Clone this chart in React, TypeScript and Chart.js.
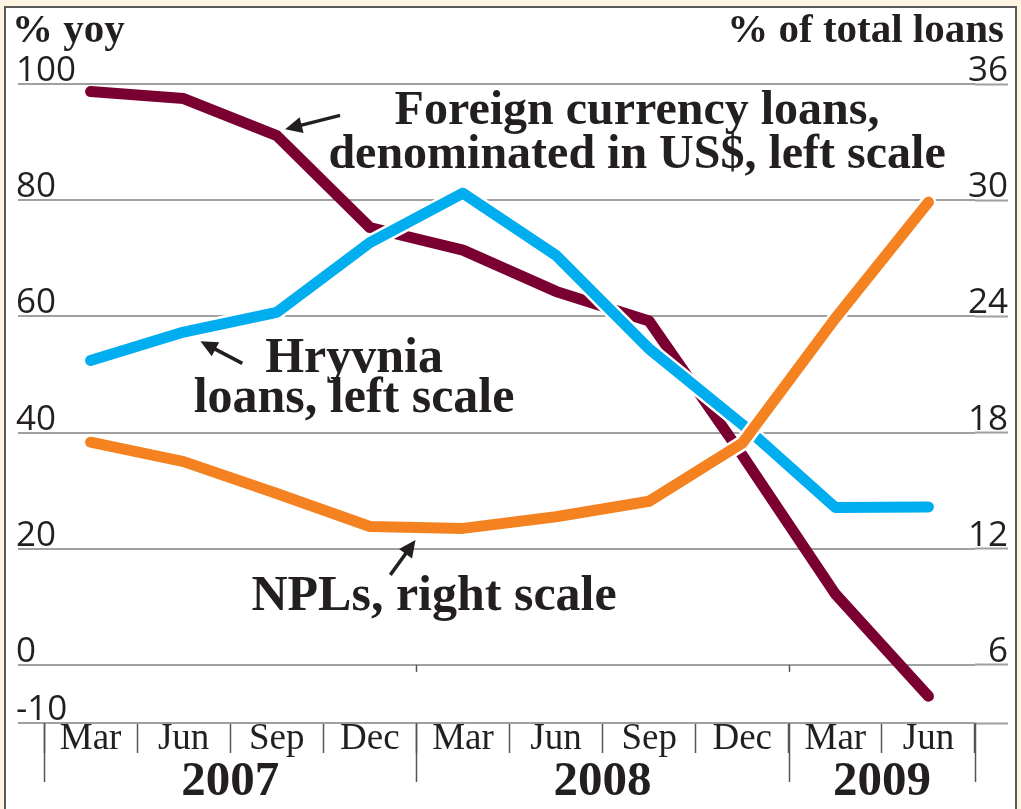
import React, { useEffect, useRef } from 'react';
import { Chart, registerables } from 'chart.js';

Chart.register(...registerables);

// ---------- data ----------
const categories = ['Mar', 'Jun', 'Sep', 'Dec', 'Mar', 'Jun', 'Sep', 'Dec', 'Mar', 'Jun'];
const years = ['2007', '2008', '2009'];
const yearFirstIndex = [0, 4, 8];
const yearLastIndex = [3, 7, 9];
const foreignLoans = [98.7, 97.5, 91.1, 75.3, 71.4, 64.3, 59.2, 36.1, 12.2, -5.4];
const hryvniaLoans = [52.4, 57.3, 60.7, 72.7, 81.2, 70.5, 54.4, 41.4, 27.1, 27.2];
const npls = [17.5, 16.5, 14.85, 13.15, 13.05, 13.65, 14.45, 17.45, 23.9, 29.9];
const leftTicks = [-10, 0, 20, 40, 60, 80, 100];
const rightTicks = [3, 6, 12, 18, 24, 30, 36];
const leftTitle = '% yoy';
const rightTitle = '% of total loans';
const foreignLabel = ['Foreign currency loans,', 'denominated in US$, left scale'];
const hryvniaLabel = ['Hryvnia', 'loans, left scale'];
const nplLabel = ['NPLs, right scale'];

const SERIF = '"Liberation Serif", "Times New Roman", serif';
const SANS = '"Open Sans", sans-serif';
const INK = '#231f20';
const GRID = '#a0a0a0';

function drawArrow(ctx: CanvasRenderingContext2D, x1: number, y1: number, x2: number, y2: number) {
  const ang = Math.atan2(y2 - y1, x2 - x1);
  const headLen = 17;
  const headW = 8;
  const bx = x2 - headLen * Math.cos(ang);
  const by = y2 - headLen * Math.sin(ang);
  ctx.strokeStyle = INK;
  ctx.fillStyle = INK;
  ctx.lineWidth = 3.5;
  ctx.lineCap = 'butt';
  ctx.beginPath();
  ctx.moveTo(x1, y1);
  ctx.lineTo(bx + 2 * Math.cos(ang), by + 2 * Math.sin(ang));
  ctx.stroke();
  ctx.beginPath();
  ctx.moveTo(x2, y2);
  ctx.lineTo(bx + headW * Math.sin(ang), by - headW * Math.cos(ang));
  ctx.lineTo(bx - headW * Math.sin(ang), by + headW * Math.cos(ang));
  ctx.closePath();
  ctx.fill();
}

const decorPlugin = {
  id: 'decor',
  afterDraw(chart: any) {
    const ctx: CanvasRenderingContext2D = chart.ctx;
    const x = chart.scales.x;
    const y = chart.scales.y;
    const px = (i: number) => x.getPixelForValue(i);
    const py = (v: number) => y.getPixelForValue(v);
    ctx.save();

    // long year separators below the axis + small ticks on the zero line
    ctx.strokeStyle = '#555';
    ctx.lineWidth = 1.5;
    const bounds: number[] = [];
    yearFirstIndex.forEach((f) => bounds.push(f - 0.5));
    bounds.push(yearLastIndex[yearLastIndex.length - 1] + 0.5);
    const bottom = py(-10);
    bounds.forEach((b) => {
      const bx = Math.round(px(b)) + 0.5;
      ctx.beginPath();
      ctx.moveTo(bx, bottom);
      ctx.lineTo(bx, bottom + 59);
      ctx.stroke();
    });
    yearFirstIndex.slice(1).forEach((f) => {
      const bx = Math.round(px(f - 0.5)) + 0.5;
      ctx.beginPath();
      ctx.moveTo(bx, py(0));
      ctx.lineTo(bx, py(0) + 7);
      ctx.stroke();
    });

    // year labels
    ctx.fillStyle = INK;
    ctx.font = `bold 49px ${SERIF}`;
    ctx.textAlign = 'center';
    ctx.textBaseline = 'alphabetic';
    years.forEach((yr, k) => {
      const cx = px((yearFirstIndex[k] + yearLastIndex[k]) / 2);
      ctx.fillText(yr, cx, bottom + 72);
    });

    // axis titles
    ctx.font = `bold 41px ${SERIF}`;
    ctx.textAlign = 'left';
    ctx.fillText(leftTitle, 12, 42);
    ctx.textAlign = 'right';
    ctx.fillText(rightTitle, 1004, 42);

    // annotations
    ctx.textAlign = 'center';
    ctx.font = `bold 48px ${SERIF}`;
    ctx.fillText(foreignLabel[0], px(5.87), py(93.2));
    ctx.fillText(foreignLabel[1], px(5.87), py(85.6));
    ctx.font = `bold 50px ${SERIF}`;
    ctx.fillText(hryvniaLabel[0], px(2.83), py(50.4));
    ctx.fillText(hryvniaLabel[1], px(2.83), py(43.5));
    ctx.fillText(nplLabel[0], px(3.69), py(9.46));

    drawArrow(ctx, px(2.68), py(94.6), px(2.09), py(92.2));
    drawArrow(ctx, px(1.63), py(51.9), px(1.18), py(55.7));
    drawArrow(ctx, px(3.22), py(15.5), px(3.49), py(21.5));

    ctx.restore();
  },
};

const lineCommon = {
  pointRadius: 0,
  pointHoverRadius: 0,
  tension: 0,
  borderCapStyle: 'round' as const,
  borderJoinStyle: 'round' as const,
  fill: false,
  clip: false as any,
};

export default function App() {
  const ref = useRef<HTMLCanvasElement | null>(null);

  useEffect(() => {
    if (!ref.current) return;
    const chart = new Chart(ref.current, {
      type: 'line',
      data: {
        labels: categories,
        datasets: [
          { ...lineCommon, label: 'NPLs', data: npls, yAxisID: 'y2', borderColor: '#f58220', borderWidth: 11, order: 0 },
          { ...lineCommon, label: 'NPLs halo', data: npls, yAxisID: 'y2', borderColor: '#ffffff', borderWidth: 16, order: 1 },
          { ...lineCommon, label: 'Hryvnia', data: hryvniaLoans, yAxisID: 'y', borderColor: '#00aeef', borderWidth: 11, order: 2 },
          { ...lineCommon, label: 'Hryvnia halo', data: hryvniaLoans, yAxisID: 'y', borderColor: '#ffffff', borderWidth: 16, order: 3 },
          { ...lineCommon, label: 'Foreign', data: foreignLoans, yAxisID: 'y', borderColor: '#7b0032', borderWidth: 11, order: 4 },
        ],
      },
      options: {
        responsive: false,
        animation: false,
        devicePixelRatio: 1,
        events: [],
        layout: { padding: { left: 18, right: 13, top: 84, bottom: 26 } },
        plugins: { legend: { display: false }, tooltip: { enabled: false }, title: { display: false } },
        scales: {
          x: {
            type: 'category',
            offset: true,
            grid: {
              display: true,
              drawOnChartArea: false,
              drawTicks: true,
              tickLength: 30,
              offset: true,
              tickColor: '#555',
              tickWidth: 1.5,
            },
            border: { display: false },
            ticks: {
              font: { family: SERIF, size: 37, lineHeight: 1 },
              color: INK,
              padding: -32,
              maxRotation: 0,
              autoSkip: false,
            },
            afterFit(s: any) {
              s.height = 60;
              s.paddingLeft = 0;
              s.paddingRight = 0;
            },
          },
          y: {
            type: 'linear',
            position: 'left',
            min: -10,
            max: 100,
            afterBuildTicks(s: any) {
              s.ticks = leftTicks.map((v) => ({ value: v }));
            },
            grid: {
              color: GRID,
              lineWidth: 2,
              drawTicks: true,
              tickLength: 26,
              tickColor: GRID,
              tickWidth: 2,
            },
            border: { display: false },
            ticks: {
              mirror: true,
              padding: -28,
              labelOffset: -13,
              font: { family: SANS, size: 35 },
              color: INK,
            },
            afterFit(s: any) {
              s.width = 26;
              s.paddingTop = 0;
              s.paddingBottom = 0;
            },
          },
          y2: {
            type: 'linear',
            position: 'right',
            min: 3,
            max: 36,
            afterBuildTicks(s: any) {
              s.ticks = rightTicks.map((v) => ({ value: v }));
            },
            grid: {
              drawOnChartArea: false,
              drawTicks: true,
              tickLength: 33,
              tickColor: GRID,
              tickWidth: 2,
            },
            border: { display: false },
            ticks: {
              mirror: true,
              padding: 33,
              labelOffset: -13,
              font: { family: SANS, size: 35 },
              color: INK,
              callback: (v: any) => (Number(v) === rightTicks[0] ? '' : String(v)),
            },
            afterFit(s: any) {
              s.width = 33;
              s.paddingTop = 0;
              s.paddingBottom = 0;
            },
          },
        },
      },
      plugins: [decorPlugin],
    });
    return () => chart.destroy();
  }, []);

  return (
    <div style={{ position: 'absolute', left: 0, top: 0, width: 1021, height: 809, background: '#fdf5e2', overflow: 'hidden' }}>
      <div
        style={{
          position: 'absolute',
          left: 4,
          top: 6,
          width: 1013,
          height: 830,
          background: '#ffffff',
          border: '2px solid #5a5a5a',
          boxSizing: 'border-box',
        }}
      />
      <canvas ref={ref} width={1021} height={809} style={{ position: 'absolute', left: 0, top: 0 }} />
    </div>
  );
}
